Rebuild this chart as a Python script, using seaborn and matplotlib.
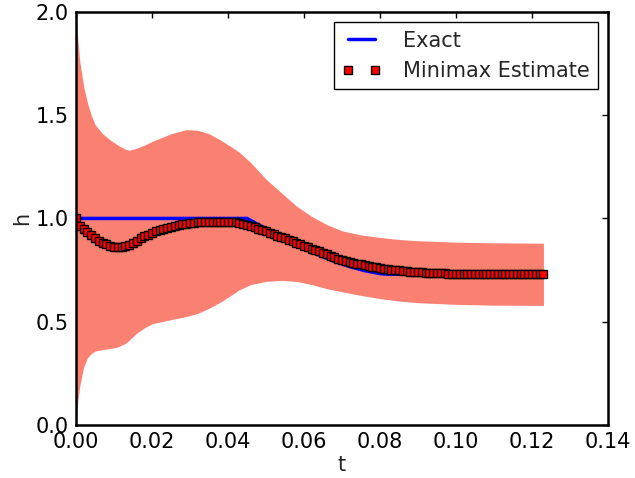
import numpy as np
import pandas as pd
import matplotlib
matplotlib.use('Agg')
import matplotlib.pyplot as plt
import seaborn as sns

# Time grid for the estimate (dt = 0.001)
t_est = np.arange(124) * 0.001

# Minimax estimate values
h_est = [
    1.000, 0.965, 0.950, 0.935, 0.920, 0.905, 0.893, 0.882, 0.874, 0.868,
    0.864, 0.862, 0.862, 0.865, 0.872, 0.882, 0.893, 0.903, 0.913, 0.922,
    0.930, 0.937, 0.944, 0.950, 0.955, 0.960, 0.964, 0.968, 0.972, 0.975,
    0.977, 0.979, 0.981, 0.982, 0.983, 0.984, 0.985, 0.985, 0.985, 0.985,
    0.984, 0.983, 0.981, 0.978, 0.974, 0.969, 0.963, 0.957, 0.951, 0.945,
    0.938, 0.931, 0.924, 0.917, 0.910, 0.903, 0.896, 0.889, 0.882, 0.875,
    0.868, 0.861, 0.854, 0.847, 0.840, 0.833, 0.826, 0.819, 0.812, 0.806,
    0.800, 0.795, 0.790, 0.785, 0.781, 0.777, 0.773, 0.769, 0.766, 0.763,
    0.760, 0.757, 0.754, 0.752, 0.750, 0.748, 0.746, 0.744, 0.742, 0.741,
    0.740, 0.739, 0.738, 0.737, 0.736, 0.735, 0.734, 0.734, 0.733, 0.733,
    0.732, 0.732, 0.732, 0.732, 0.732, 0.732, 0.732, 0.732, 0.732, 0.732,
    0.732, 0.732, 0.732, 0.732, 0.732, 0.732, 0.732, 0.732, 0.732, 0.732,
    0.732, 0.732, 0.732, 0.732,
]

# Exact solution
t_exact = [0.0, 0.045, 0.048, 0.052, 0.056, 0.060, 0.064, 0.068, 0.072,
           0.076, 0.080, 0.082, 0.123]
h_exact = [1.0, 1.0, 0.97, 0.93, 0.89, 0.855, 0.822, 0.792, 0.767,
           0.747, 0.733, 0.730, 0.730]

# Uncertainty band
t_band = [0.0, 0.0005, 0.001, 0.002, 0.003, 0.004, 0.005, 0.007, 0.009,
          0.011, 0.013, 0.014, 0.016, 0.018, 0.020, 0.025, 0.029, 0.032,
          0.035, 0.038, 0.041, 0.043, 0.046, 0.050, 0.054, 0.058, 0.062,
          0.066, 0.070, 0.075, 0.080, 0.085, 0.090, 0.100, 0.110, 0.123]
h_upper = [2.0, 1.86, 1.76, 1.64, 1.56, 1.50, 1.455, 1.41, 1.38,
           1.355, 1.335, 1.33, 1.34, 1.355, 1.373, 1.41, 1.43, 1.427,
           1.41, 1.38, 1.345, 1.32, 1.27, 1.19, 1.125, 1.06, 1.01,
           0.97, 0.94, 0.92, 0.908, 0.898, 0.892, 0.885, 0.882, 0.88]
h_lower = [0.0, 0.12, 0.19, 0.28, 0.325, 0.345, 0.358, 0.365, 0.37,
           0.378, 0.395, 0.41, 0.445, 0.47, 0.49, 0.51, 0.525, 0.54,
           0.565, 0.595, 0.63, 0.655, 0.68, 0.695, 0.70, 0.695, 0.68,
           0.66, 0.645, 0.627, 0.612, 0.60, 0.592, 0.584, 0.58, 0.579]

sns.set_style('white')
plt.rcParams['font.family'] = ['DejaVu Sans']
plt.rcParams['font.size'] = 15

fig, ax = plt.subplots(figsize=(6.35, 4.78), dpi=100)
fig.subplots_adjust(left=0.1197, right=0.9575, top=0.975, bottom=0.111)

ax.fill_between(t_band, h_lower, h_upper, color='salmon', linewidth=0)

sns.lineplot(x=t_exact, y=h_exact, ax=ax, color='blue', linewidth=2.5,
             label='Exact')
sns.lineplot(x=t_est, y=h_est, ax=ax, color='red', linestyle='',
             marker='s', markersize=5.5, markeredgecolor='black',
             markeredgewidth=1, label='Minimax Estimate')

ax.set_xlim(0, 0.14)
ax.set_ylim(0, 2.0)
ax.set_xticks(np.arange(0, 0.141, 0.02))
ax.set_yticks(np.arange(0, 2.01, 0.5))
ax.set_xticklabels(['%.2f' % v for v in np.arange(0, 0.141, 0.02)])
ax.set_yticklabels(['%.1f' % v for v in np.arange(0, 2.01, 0.5)])
ax.set_xlabel('t', fontsize=15, labelpad=2)
ax.set_ylabel('h', fontsize=15, labelpad=3)

ax.tick_params(direction='in', length=4, width=1, top=True, right=True,
               labelsize=15, color='black', labelcolor='black', pad=5)
for s in ax.spines.values():
    s.set_color('black')
    s.set_linewidth(1.8)

leg = ax.legend(loc='upper right', numpoints=2, fancybox=False,
                framealpha=1, edgecolor='black', fontsize=15,
                handlelength=1.9, handletextpad=1.0, borderaxespad=0.5)
leg.get_frame().set_linewidth(1.0)

fig.savefig('out.png', dpi=100)
